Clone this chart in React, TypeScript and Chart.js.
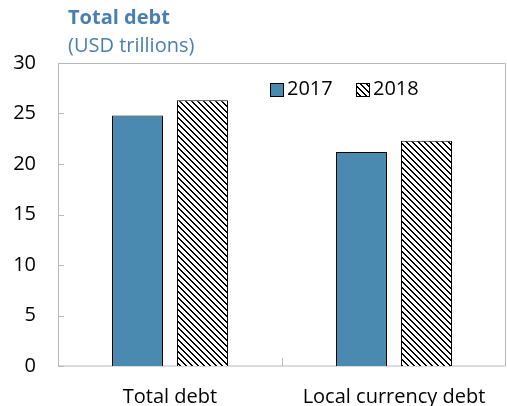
import React, { useEffect, useRef } from "react";
import { Chart, registerables } from "chart.js";

Chart.register(...registerables);

const categories = ["Total debt", "Local currency debt"];
const seriesNames = ["2017", "2018"];
const values2017 = [24.8, 21.2];
const values2018 = [26.3, 22.3];
const yTicks = [0, 5, 10, 15, 20, 25, 30];

const FONT = "'Open Sans', 'Noto Sans', sans-serif";
const BLUE = "#4a8ab0";
const TITLE_BLUE = "#4a7fb4";

function makeHatch(ctx: CanvasRenderingContext2D): CanvasPattern | string {
  const c = document.createElement("canvas");
  const n = 6;
  c.width = n;
  c.height = n;
  const g = c.getContext("2d")!;
  g.fillStyle = "#ffffff";
  g.fillRect(0, 0, n, n);
  g.fillStyle = "#000000";
  for (let i = 0; i < n; i++) {
    g.fillRect(i, i, 1, 1);
    g.fillRect((i + 1) % n, i, 1, 1);
  }
  return ctx.createPattern(c, "repeat") || "#888";
}

export default function App() {
  const ref = useRef<HTMLCanvasElement | null>(null);

  useEffect(() => {
    const canvas = ref.current!;
    const ctx = canvas.getContext("2d")!;
    const hatch = makeHatch(ctx);

    const decor = {
      id: "decor",
      beforeDatasetsDraw(chart: any) {
        const { ctx, chartArea } = chart;
        const y = chart.scales.y;
        const x = chart.scales.x;
        ctx.save();
        ctx.strokeStyle = "#b8b8b8";
        ctx.lineWidth = 1;
        ctx.beginPath();
        ctx.rect(
          Math.round(chartArea.left) + 0.5,
          Math.round(chartArea.top) + 0.5,
          Math.round(chartArea.right - chartArea.left) - 1,
          Math.round(chartArea.bottom - chartArea.top) - 0.5
        );
        ctx.stroke();
        ctx.beginPath();
        yTicks.forEach((v) => {
          const py = Math.round(y.getPixelForValue(v)) + 0.5;
          ctx.moveTo(chartArea.left, py);
          ctx.lineTo(chartArea.left + 6, py);
        });
        const mid = Math.round((x.getPixelForValue(0) + x.getPixelForValue(1)) / 2) + 0.5;
        ctx.moveTo(mid, chartArea.bottom);
        ctx.lineTo(mid, chartArea.bottom - 8);
        ctx.stroke();
        ctx.restore();
      },
      afterDraw(chart: any) {
        const { ctx } = chart;
        ctx.save();
        ctx.textBaseline = "middle";
        ctx.textAlign = "left";
        ctx.fillStyle = TITLE_BLUE;
        ctx.font = `bold 20px ${FONT}`;
        ctx.fillText("Total debt", 68, 18);
        ctx.font = `20px ${FONT}`;
        ctx.fillText("(USD trillions)", 68, 46);
        const items = [
          { x: 270, label: seriesNames[0], fill: BLUE },
          { x: 356, label: seriesNames[1], fill: hatch },
        ];
        items.forEach((it) => {
          ctx.fillStyle = it.fill as any;
          ctx.fillRect(it.x, 83, 14, 14);
          ctx.strokeStyle = "#000";
          ctx.lineWidth = 1;
          ctx.strokeRect(it.x + 0.5, 83.5, 13, 13);
          ctx.fillStyle = "#000";
          ctx.font = `20px ${FONT}`;
          ctx.fillText(it.label, it.x + 17, 89);
        });
        ctx.restore();
      },
    };

    const chart = new Chart(canvas, {
      type: "bar",
      data: {
        labels: categories,
        datasets: [
          {
            label: seriesNames[0],
            data: values2017,
            backgroundColor: BLUE,
            borderColor: "#000",
            borderWidth: 1,
            borderSkipped: "bottom",
            categoryPercentage: 0.58,
            barPercentage: 0.785,
          },
          {
            label: seriesNames[1],
            data: values2018,
            backgroundColor: hatch as any,
            borderColor: "#000",
            borderWidth: 1,
            borderSkipped: "bottom",
            categoryPercentage: 0.58,
            barPercentage: 0.785,
          },
        ],
      },
      options: {
        animation: false,
        responsive: false,
        maintainAspectRatio: false,
        layout: { padding: { top: 63, right: 1, left: 0, bottom: 0 } },
        plugins: {
          legend: { display: false },
          title: { display: false },
          tooltip: { enabled: false },
        },
        scales: {
          x: {
            grid: { display: false, drawTicks: false },
            border: { display: false },
            ticks: { color: "#000", font: { family: FONT, size: 20 }, padding: 19 },
            afterFit: (s: any) => {
              s.height = 40;
            },
          },
          y: {
            min: 0,
            max: 30,
            grid: { display: false, drawTicks: false },
            border: { display: false },
            ticks: {
              stepSize: 5,
              color: "#000",
              font: { family: FONT, size: 20 },
              padding: 22,
            },
            afterFit: (s: any) => {
              s.width = 58;
            },
          },
        },
      },
      plugins: [decor],
    });
    return () => chart.destroy();
  }, []);

  return (
    <div style={{ position: "fixed", left: 0, top: 0, width: 507, height: 406, background: "#fff" }}>
      <canvas ref={ref} width={507} height={406} style={{ width: 507, height: 406, display: "block" }} />
    </div>
  );
}
